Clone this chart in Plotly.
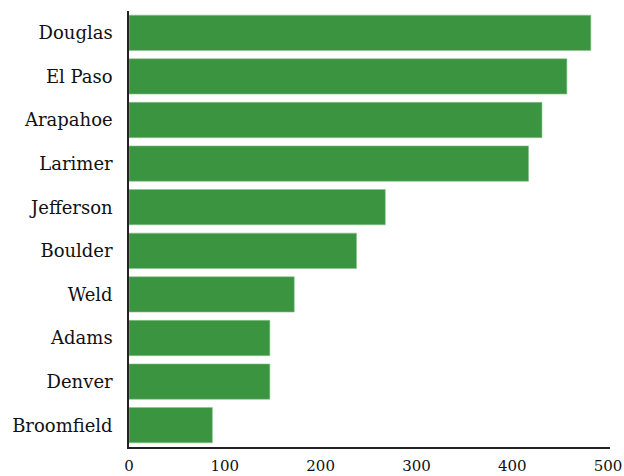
import plotly.graph_objects as go

counties = ['Douglas', 'El Paso', 'Arapahoe', 'Larimer', 'Jefferson',
            'Boulder', 'Weld', 'Adams', 'Denver', 'Broomfield']
values = [482, 457, 431, 417, 267.5, 237.5, 172.5, 147, 147, 87]
x_ticks = [0, 100, 200, 300, 400, 500]

fig = go.Figure(go.Bar(
    x=values, y=counties, orientation='h',
    marker=dict(color='#3a9440', line=dict(color='#8cc490', width=0.6)),
))

fig.update_layout(
    width=624, height=476,
    margin=dict(l=129, r=14, t=11, b=29, autoexpand=False),
    paper_bgcolor='white', plot_bgcolor='white',
    font=dict(family='DejaVu Serif', color='#111111'),
    bargap=0.19,
    showlegend=False,
)
fig.update_yaxes(autorange='reversed', showline=True, linecolor='#222222', linewidth=1.5,
                 showgrid=False, ticks='', tickfont=dict(size=18), ticklabelstandoff=11,
                 automargin=False)
fig.update_xaxes(range=[0, 502], tickvals=x_ticks, showline=True, linecolor='#222222', linewidth=1.5,
                 showgrid=False, zeroline=False, ticks='', tickfont=dict(size=15),
                 ticklabelstandoff=4, automargin=False)

# page body margin would push the 624x476 figure off the window
fig.write_html('out.html', config={'displayModeBar': False},
               post_script="document.body.style.margin='0';")
